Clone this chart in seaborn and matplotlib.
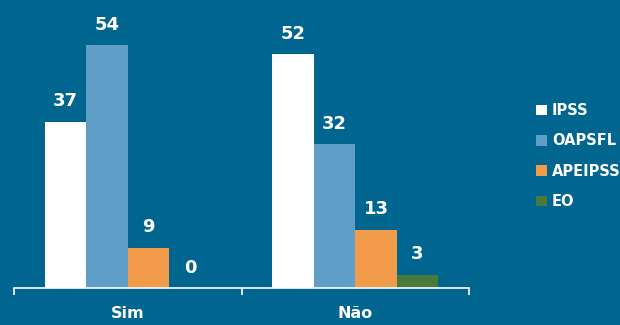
import matplotlib
matplotlib.use("Agg")
import matplotlib.pyplot as plt
import seaborn as sns
import pandas as pd
from matplotlib.patches import Patch

categories = ["Sim", "Não"]
series = ["IPSS", "OAPSFL", "APEIPSS", "EO"]
ipss = [37, 52]
oapsfl = [54, 32]
apeipss = [9, 13]
eo = [0, 3]

colors = ["#ffffff", "#5f9ec6", "#f29c4b", "#4a7a3a"]
bg = "#00658f"

rows = []
for name, vals in zip(series, [ipss, oapsfl, apeipss, eo]):
    for c, v in zip(categories, vals):
        rows.append({"cat": c, "series": name, "value": v})
df = pd.DataFrame(rows)

sns.set_theme(style="white")
plt.rcParams["font.family"] = ["DejaVu Sans"]

fig = plt.figure(figsize=(6.2, 3.25), dpi=100, facecolor=bg)
ax = fig.add_axes([14/620, 37/325, 455/620, 278/325])
ax.set_facecolor(bg)

sns.barplot(data=df, x="cat", y="value", hue="series", order=categories,
            hue_order=series, palette=colors, width=0.73, gap=0,
            saturation=1, ax=ax, legend=False, errorbar=None, linewidth=0)

for cont in ax.containers:
    for bar in cont:
        h = bar.get_height()
        ax.annotate(f"{int(h)}", (bar.get_x() + bar.get_width()/2, h),
                    xytext=(0, 11), textcoords="offset points",
                    ha="center", va="baseline", color="white",
                    fontsize=13, fontweight="bold")

ax.set_xlim(-0.5, 1.5)
ax.set_ylim(0, 61.8)
ax.set_xlabel("")
ax.set_ylabel("")
ax.set_yticks([])
for s in ["top", "right", "left"]:
    ax.spines[s].set_visible(False)
ax.spines["bottom"].set_color("white")
ax.spines["bottom"].set_linewidth(1.2)
ax.set_xticks([0, 1])
ax.set_xticklabels(categories, color="white", fontsize=11.5, fontweight="bold")
ax.tick_params(axis="x", which="major", length=0, pad=13)
ax.set_xticks([-0.5, 0.5, 1.5], minor=True)
ax.tick_params(axis="x", which="minor", length=5, width=1.2, color="white",
               direction="out", bottom=True)

handles = [Patch(facecolor=c, edgecolor="none") for c in colors]
leg = fig.legend(handles, series, loc="upper left", bbox_to_anchor=(536/620, 1 - 103/325),
                 frameon=False, handlelength=0.75, handleheight=0.75,
                 handletextpad=0.35, labelspacing=1.05, borderaxespad=0,
                 borderpad=0, prop={"weight": "bold", "size": 10.5})
for t in leg.get_texts():
    t.set_color("white")

fig.savefig("out.png", dpi=100, facecolor=bg)
